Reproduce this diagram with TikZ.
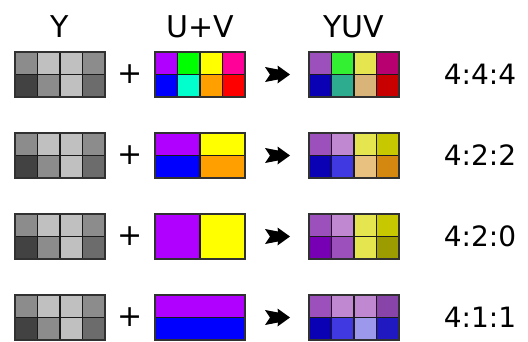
\documentclass[tikz,border=0pt]{standalone}
\usepackage{fontspec}
\setmainfont{DejaVu Sans}
\definecolor{g1}{HTML}{8C8C8C}
\definecolor{g2}{HTML}{C0C0C0}
\definecolor{g3}{HTML}{424242}
\definecolor{g4}{HTML}{6C6C6C}
\definecolor{uvpur}{HTML}{B000FF}
\definecolor{uvgrn}{HTML}{00FF00}
\definecolor{uvyel}{HTML}{FFFF00}
\definecolor{uvpnk}{HTML}{FF0098}
\definecolor{uvblu}{HTML}{0000FF}
\definecolor{uvaqu}{HTML}{00FFCC}
\definecolor{uvora}{HTML}{FFA000}
\definecolor{uvred}{HTML}{FF0000}
\definecolor{ypur}{HTML}{9C50BC}
\definecolor{ygrn}{HTML}{33F033}
\definecolor{yyel}{HTML}{E5E550}
\definecolor{ymag}{HTML}{B80070}
\definecolor{ynav}{HTML}{0A00B4}
\definecolor{yteal}{HTML}{2EAC90}
\definecolor{ytan}{HTML}{D8B478}
\definecolor{ydred}{HTML}{C80000}
\definecolor{ylpur}{HTML}{C088D0}
\definecolor{yolive}{HTML}{C8C800}
\definecolor{yblu}{HTML}{4038E0}
\definecolor{ypeach}{HTML}{E8C080}
\definecolor{ydora}{HTML}{D48810}
\definecolor{yvio}{HTML}{7800B4}
\definecolor{ydolive}{HTML}{9C9C00}
\definecolor{ympur}{HTML}{8844A8}
\definecolor{ylblu}{HTML}{9C98EC}
\definecolor{ydblu}{HTML}{2018C0}
\definecolor{edge}{HTML}{1A1A1A}
\newcommand\cellgrid[3]{%
  \foreach \c [count=\i from 0] in {#3} {
    \pgfmathtruncatemacro\cx{mod(\i,4)}
    \pgfmathtruncatemacro\cy{int(\i/4)}
    \filldraw[cellline, fill=\c] (#1+\cx*22.5, #2+\cy*22.5) rectangle ++(22.5,22.5);
  }
  \draw[outerline] (#1,#2) rectangle ++(90,45);
}
\newcommand\dartat[2]{%
  \fill[black] (#1-12.5,#2-7.5) -- (#1+0.5,#2-5) -- (#1,#2-9) -- (#1+12.5,#2) -- (#1,#2+9) -- (#1+0.5,#2+5) -- (#1-12.5,#2+7.5) -- (#1-7.5,#2) -- cycle;
}
\begin{document}
\begin{tikzpicture}[x=1pt,y=-1pt,
  cellline/.style={draw=edge, line width=1.4pt},
  outerline/.style={draw=edge!90!white, line width=1.8pt},
  title/.style={font=\fontsize{30}{30}\selectfont, inner sep=0pt, anchor=base},
  ratio/.style={font=\fontsize{28}{28}\selectfont, inner sep=0pt},
  plussign/.style={font=\fontsize{30}{30}\selectfont, inner sep=0pt}]
\useasboundingbox (0,0) rectangle (528,341);

\node[title] (tY) at (60,37) {Y};
\node[title] (tUV) at (200,37) {U+V};
\node[title] (tYUV) at (354,37) {YUV};

% Y grids
\foreach \yy in {52,133,214,295} {
  \cellgrid{15}{\yy}{g1,g2,g2,g1,g3,g1,g2,g4}
}

% 4:4:4
\cellgrid{155}{52}{uvpur,uvgrn,uvyel,uvpnk,uvblu,uvaqu,uvora,uvred}
\cellgrid{309}{52}{ypur,ygrn,yyel,ymag,ynav,yteal,ytan,ydred}
% 4:2:2
\filldraw[cellline, fill=uvpur] (155,133) rectangle ++(45,22.5);
\filldraw[cellline, fill=uvyel] (200,133) rectangle ++(45,22.5);
\filldraw[cellline, fill=uvblu] (155,155.5) rectangle ++(45,22.5);
\filldraw[cellline, fill=uvora] (200,155.5) rectangle ++(45,22.5);
\draw[outerline] (155,133) rectangle ++(90,45);
\cellgrid{309}{133}{ypur,ylpur,yyel,yolive,ynav,yblu,ypeach,ydora}
% 4:2:0
\filldraw[cellline, fill=uvpur] (155,214) rectangle ++(45,45);
\filldraw[cellline, fill=uvyel] (200,214) rectangle ++(45,45);
\draw[outerline] (155,214) rectangle ++(90,45);
\cellgrid{309}{214}{ypur,ylpur,yyel,yolive,yvio,ypur,yyel,ydolive}
% 4:1:1
\filldraw[cellline, fill=uvpur] (155,295) rectangle ++(90,22.5);
\filldraw[cellline, fill=uvblu] (155,317.5) rectangle ++(90,22.5);
\draw[outerline] (155,295) rectangle ++(90,45);
\cellgrid{309}{295}{ypur,ylpur,ylpur,ympur,ynav,yblu,ylblu,ydblu}

% plus signs, arrows, ratios
\foreach \yc/\lab [count=\k] in {74.5/4:4:4, 155.5/4:2:2, 236.5/4:2:0, 317.5/4:1:1} {
  \node[plussign] (plus\k) at (130,\yc) {+};
  \dartat{277.5}{\yc}
  \node[ratio] (ratio\k) at (480,\yc) {\lab};
}
\end{tikzpicture}
\end{document}
